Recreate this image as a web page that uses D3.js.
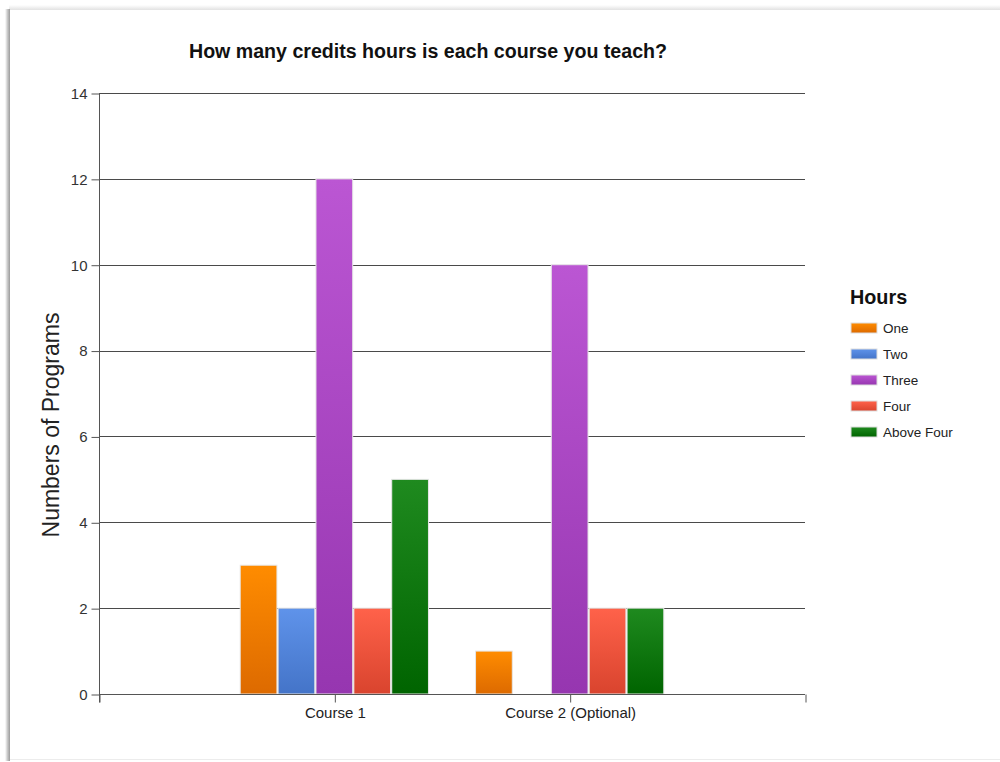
<!DOCTYPE html>
<html>
<head>
<meta charset="utf-8">
<script src="https://cdn.jsdelivr.net/npm/d3@7"></script>
<style>
  html, body { margin: 0; padding: 0; background: #ffffff; }
  svg { display: block; font-family: "Liberation Sans", Arial, sans-serif; }
</style>
</head>
<body>
<svg id="chart" width="1000" height="762"></svg>
<script>
// Courses on the category axis and the credit-hour series
const courses = ["Course 1", "Course 2 (Optional)"];
const seriesNames = ["One", "Two", "Three", "Four", "Above Four"];
const course1Values = [3, 2, 12, 2, 5];
const course2Values = [1, 0, 10, 2, 2];
const yTicks = [0, 2, 4, 6, 8, 10, 12, 14];

const seriesTop = ["#ff8c00", "#5f93ea", "#bb56d3", "#ff624a", "#1f8a1f"];
const seriesBottom = ["#dd6a00", "#4474c8", "#9636b0", "#d9442e", "#006400"];

const valuesByCourse = [course1Values, course2Values];

const svg = d3.select("#chart");
const W = 1000, H = 762;

// Page frame with a soft shadow on the left and top edges
const defs = svg.append("defs");
const leftShadow = defs.append("linearGradient").attr("id", "leftShadow")
  .attr("x1", 0).attr("x2", 1).attr("y1", 0).attr("y2", 0);
leftShadow.append("stop").attr("offset", 0).attr("stop-color", "#ffffff");
leftShadow.append("stop").attr("offset", 0.5).attr("stop-color", "#c8c8c8");
leftShadow.append("stop").attr("offset", 1).attr("stop-color", "#9a9a9a");
const topShadow = defs.append("linearGradient").attr("id", "topShadow")
  .attr("x1", 0).attr("x2", 0).attr("y1", 0).attr("y2", 1);
topShadow.append("stop").attr("offset", 0).attr("stop-color", "#ffffff");
topShadow.append("stop").attr("offset", 1).attr("stop-color", "#e2e2e2");

svg.append("rect").attr("x", 0).attr("y", 0).attr("width", W).attr("height", H).attr("fill", "#ffffff");
svg.append("rect").attr("x", 9).attr("y", 5).attr("width", W - 9).attr("height", 5).attr("fill", "url(#topShadow)");
svg.append("rect").attr("x", 5).attr("y", 9).attr("width", 5).attr("height", 752).attr("fill", "url(#leftShadow)");
svg.append("rect").attr("x", 10).attr("y", 759).attr("width", W - 10).attr("height", 1).attr("fill", "#ececec");

// Bar gradients, one per series
seriesNames.forEach((s, i) => {
  const g = defs.append("linearGradient").attr("id", "grad" + i)
    .attr("x1", 0).attr("x2", 0).attr("y1", 0).attr("y2", 1);
  g.append("stop").attr("offset", 0).attr("stop-color", seriesTop[i]);
  g.append("stop").attr("offset", 1).attr("stop-color", seriesBottom[i]);
});

// Plot area
const plot = { left: 99, right: 805, top: 93, bottom: 694 };

const x = d3.scaleLinear().domain([0, courses.length + 1]).range([plot.left, plot.right]);
const y = d3.scaleLinear().domain([0, 14]).range([plot.bottom, plot.top]);

const groupWidth = 0.8 * (x(1) - x(0));
const xInner = d3.scaleBand().domain(seriesNames).range([-groupWidth / 2, groupWidth / 2]).paddingInner(0.03);

// Horizontal gridlines
svg.append("g")
  .selectAll("line")
  .data(yTicks.filter(t => t > 0))
  .join("line")
  .attr("x1", plot.left).attr("x2", plot.right)
  .attr("y1", d => Math.round(y(d)) + 0.5).attr("y2", d => Math.round(y(d)) + 0.5)
  .attr("stroke", "#4a4a4a").attr("stroke-width", 1);

// Bars
const groups = svg.append("g")
  .selectAll("g")
  .data(courses)
  .join("g")
  .attr("transform", (d, i) => `translate(${x(i + 1)},0)`);

groups.selectAll("rect")
  .data((d, i) => valuesByCourse[i].map((v, j) => ({ v, j })).filter(e => e.v > 0))
  .join("rect")
  .attr("x", e => xInner(seriesNames[e.j]))
  .attr("width", xInner.bandwidth())
  .attr("y", e => y(e.v))
  .attr("height", e => y(0) - y(e.v))
  .attr("fill", e => "url(#grad" + e.j + ")")
  .attr("stroke", "#e6e6e6")
  .attr("stroke-width", 1);

// Y axis
const yAxis = d3.axisLeft(y).tickValues(yTicks).tickSize(8).tickPadding(4);
const yAxisG = svg.append("g")
  .attr("transform", `translate(${plot.left + 0.5},0.5)`)
  .call(yAxis);
yAxisG.select(".domain").attr("stroke", "#555555")
  .attr("d", `M0,${plot.top}V${plot.bottom + 8}`);
yAxisG.selectAll(".tick line").attr("stroke", "#555555");
yAxisG.selectAll(".tick text")
  .attr("fill", "#333333")
  .style("font-size", "15px")
  .style("font-family", "'Liberation Sans', Arial, sans-serif");

// X axis
const xAxis = d3.axisBottom(x)
  .tickValues([0, 1, 2, 3])
  .tickFormat(d => (d >= 1 && d <= courses.length) ? courses[d - 1] : "")
  .tickSize(8).tickPadding(5);
const xAxisG = svg.append("g")
  .attr("transform", `translate(0.5,${plot.bottom + 0.5})`)
  .call(xAxis);
xAxisG.select(".domain").attr("stroke", "#555555")
  .attr("d", `M${plot.left},0H${plot.right - 0.5}`);
xAxisG.selectAll(".tick line").attr("stroke", "#555555");
xAxisG.selectAll(".tick text")
  .attr("fill", "#222222")
  .style("font-size", "15px")
  .style("font-family", "'Liberation Sans', Arial, sans-serif");

// Title
svg.append("text")
  .attr("x", 428).attr("y", 58)
  .attr("text-anchor", "middle")
  .style("font-size", "19.6px").style("font-weight", "bold")
  .attr("fill", "#111111")
  .text("How many credits hours is each course you teach?");

// Y axis title
svg.append("text")
  .attr("transform", "translate(59,425) rotate(-90)")
  .attr("text-anchor", "middle")
  .style("font-size", "23px")
  .attr("fill", "#222222")
  .text("Numbers of Programs");

// Legend
const legend = svg.append("g").attr("transform", "translate(850,0)");
legend.append("text")
  .attr("x", 0).attr("y", 304)
  .style("font-size", "19.8px").style("font-weight", "bold")
  .attr("fill", "#111111")
  .text("Hours");
const items = legend.selectAll("g.item")
  .data(seriesNames)
  .join("g")
  .attr("class", "item")
  .attr("transform", (d, i) => `translate(0,${323 + i * 26})`);
items.append("rect")
  .attr("x", 1).attr("y", 0).attr("width", 26).attr("height", 10)
  .attr("fill", (d, i) => "url(#grad" + i + ")")
  .attr("stroke", "#dddddd");
items.append("text")
  .attr("x", 33).attr("y", 10)
  .style("font-size", "13.5px")
  .attr("fill", "#222222")
  .text(d => d);
</script>
</body>
</html>
